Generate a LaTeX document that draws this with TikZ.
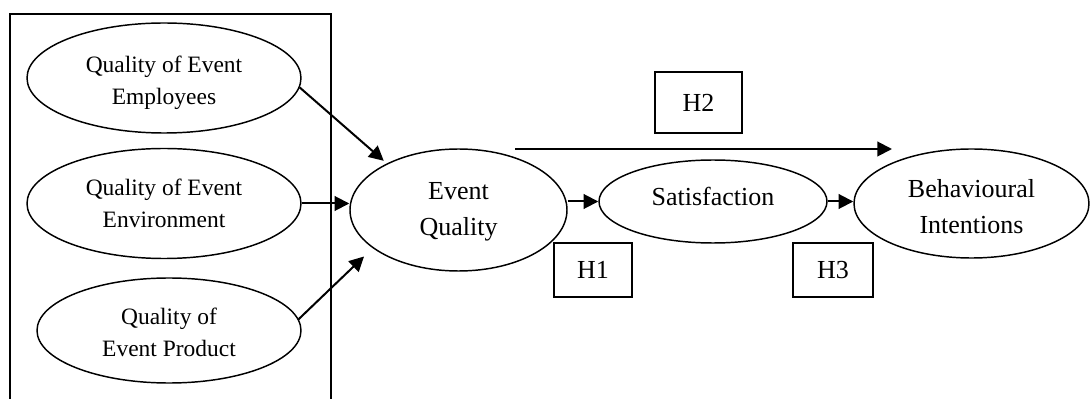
\documentclass[tikz,border=0pt]{standalone}
\usepackage{fontspec}
\setmainfont{Liberation Serif}
\usetikzlibrary{shapes.geometric,arrows.meta}
\begin{document}
\begin{tikzpicture}[x=0.75pt,y=-0.75pt,
  oval/.style={draw, ellipse, line width=1.1pt, inner sep=0pt, align=center, text depth=0pt},
  lefttext/.style={font=\fontsize{17.6}{24}\selectfont},
  righttext/.style={font=\fontsize{19.5}{27}\selectfont},
  hbox/.style={draw, line width=1.1pt, inner sep=0pt, font=\fontsize{19.5}{27}\selectfont},
  arr/.style={line width=1.5pt, -{Triangle[length=11pt,width=11pt]}}
]
\useasboundingbox (0,0) rectangle (1090,399);
\fill[white] (0,0) rectangle (1090,399);

% frame around the three quality dimensions
\draw[line width=1.1pt] (10,399.5) -- (10,14) -- (331,14) -- (331,399.5);

% left ellipses
\node[oval, lefttext, text height=40.1pt, minimum width=205.5pt, minimum height=82.5pt] (emp) at (164,78) {Quality of Event\\Employees};
\node[oval, lefttext, text height=36.35pt, minimum width=205.5pt, minimum height=82.5pt] (env) at (164,203.5) {Quality of Event\\Environment};
\node[oval, lefttext, text height=38.6pt, minimum width=198pt, minimum height=78.75pt] (prod) at (169,330.5) {Quality of\\Event Product};

% right ellipses
\node[oval, righttext, text height=38.3pt, minimum width=162.75pt, minimum height=91.5pt] (eq) at (458.5,210) {Event\\Quality};
\node[oval, righttext, text height=5.3pt, minimum width=171pt, minimum height=62.25pt] (sat) at (713,201.5) {Satisfaction};
\node[oval, righttext, text height=44.3pt, minimum width=176.25pt, minimum height=81.75pt] (beh) at (971.5,203.5) {Behavioural\\Intentions};

% hypothesis boxes
\node[hbox, minimum width=65.25pt, minimum height=45.75pt] (h2) at (698.5,102.5) {H2};
\node[hbox, minimum width=58.5pt, minimum height=40.5pt] (h1) at (593,270) {H1};
\node[hbox, minimum width=60pt, minimum height=40.5pt] (h3) at (833,270) {H3};

% H2 arrow free ends
\coordinate (h2s) at (515,149);
\coordinate (h2e) at (892,149);

% connectors
\draw[arr, shorten >=3pt] (emp.-4) -- (eq.147);
\draw[arr] (env.east) -- (env.east -| eq.west);
\draw[arr, shorten >=9pt] (prod.5) -- (eq.204);
\draw[arr] (sat.west -| eq.east) -- (sat.west);
\draw[arr] (sat.east) -- (sat.east -| beh.west);
\draw[arr] (h2s) -- (h2e);
\end{tikzpicture}
\end{document}
